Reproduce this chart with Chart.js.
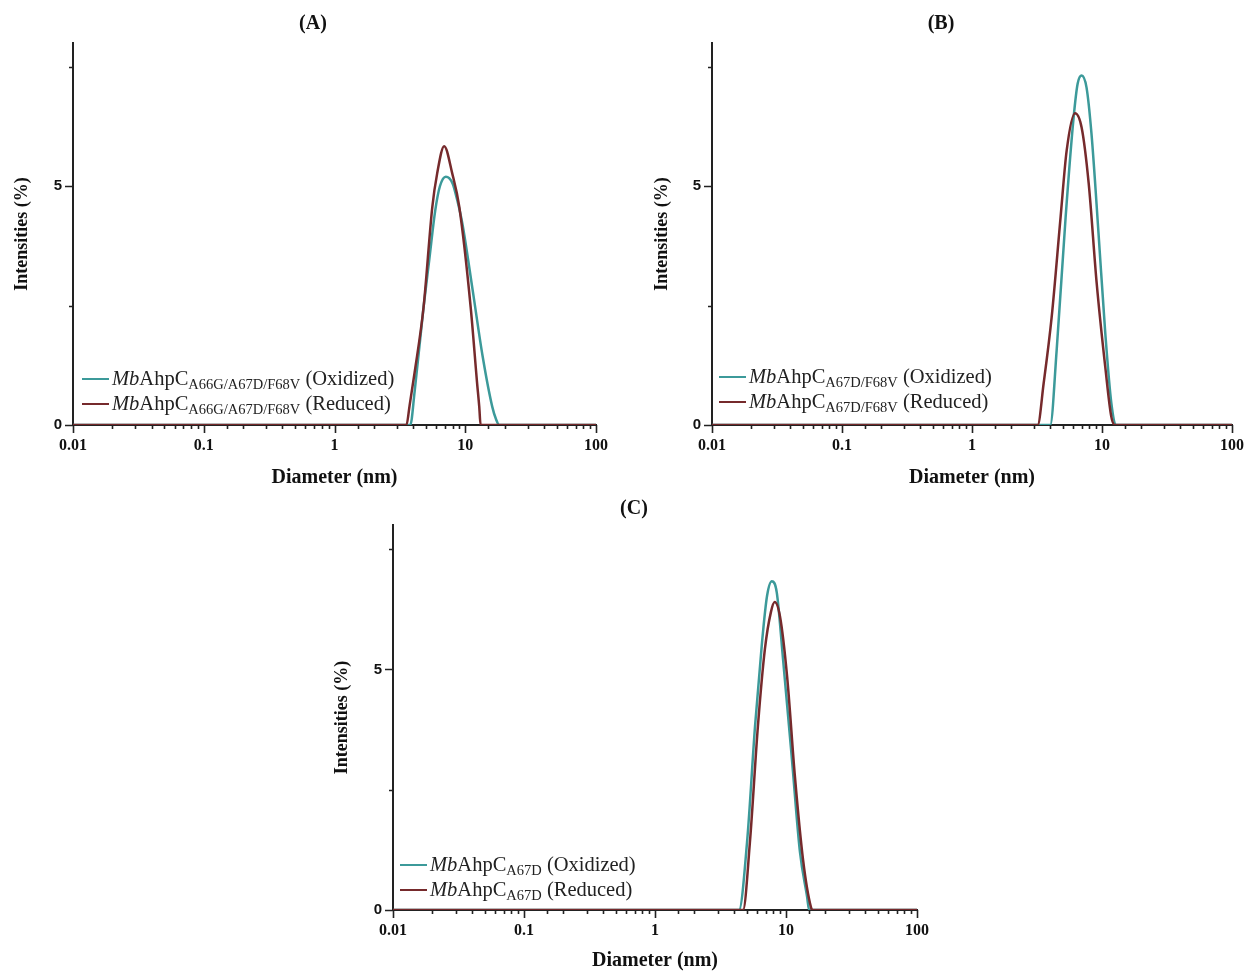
<!DOCTYPE html>
<html>
<head>
<meta charset="utf-8">
<script src="https://cdn.jsdelivr.net/npm/chart.js@4.4.1/dist/chart.umd.min.js"></script>
<style>
  body { margin: 0; background: #fff; }
  #page { position: relative; width: 1255px; height: 973px; overflow: hidden; }
  canvas { position: absolute; }
  .ptitle { position: absolute; font: bold 20px "Liberation Serif", serif; line-height: 24px; transform: translateX(-50%); color: #111; }
  .legend { position: absolute; font: 20.5px "Liberation Serif", serif; color: #222; }
  .legend .row { position: relative; height: 25px; white-space: nowrap; }
  .legend .sw { position: absolute; left: 0; top: 12px; width: 27px; height: 2px; }
  .legend .txt { position: absolute; left: 30px; top: 0; line-height: 25px; }
  .legend sub { font-size: 14.5px; vertical-align: -4px; line-height: 0; }
</style>
</head>
<body>
<div id="page">
  <canvas id="chartA" width="620" height="490" style="left:0px;top:0px"></canvas>
  <canvas id="chartB" width="615" height="490" style="left:640px;top:0px"></canvas>
  <canvas id="chartC" width="620" height="473" style="left:320px;top:500px"></canvas>
  <div class="ptitle" style="left:313px;top:10px">(A)</div>
  <div class="ptitle" style="left:941px;top:10px">(B)</div>
  <div class="ptitle" style="left:634px;top:495px">(C)</div>
  <div class="legend" id="legA" style="left:82px;top:366px"></div>
  <div class="legend" id="legB" style="left:719px;top:364px"></div>
  <div class="legend" id="legC" style="left:400px;top:852px"></div>
</div>
<script>
// diameters (nm) and intensities (%)
const diamA_ox  = [0.01, 3.8, 4.1, 4.8, 5.3, 5.9, 6.4, 7.1, 8.0, 8.7, 9.5, 11.4, 13.6, 16.1, 17.2, 18.2, 100];
const intA_ox   = [0, 0, 0.7, 2.47, 3.45, 4.5, 5.0, 5.2, 5.06, 4.7, 4.22, 2.82, 1.43, 0.38, 0.12, 0, 0];
const diamA_red = [0.01, 3.55, 3.75, 4.1, 4.8, 5.6, 6.1, 6.9, 7.95, 9.0, 11.0, 12.3, 12.8, 13.1, 100];
const intA_red  = [0, 0, 0.4, 1.1, 2.47, 4.57, 5.27, 5.84, 5.27, 4.57, 2.47, 0.9, 0.38, 0, 0];

const diamB_ox  = [0.01, 4.0, 4.48, 5.25, 6.05, 6.5, 6.97, 7.6, 8.3, 9.4, 10.6, 11.8, 12.9, 100];
const intB_ox   = [0, 0, 1.57, 4.35, 6.44, 7.15, 7.32, 7.07, 6.1, 4.02, 1.92, 0.46, 0, 0];
const diamB_red = [0.01, 3.2, 3.56, 4.1, 4.8, 5.35, 6.2, 6.97, 7.9, 9.1, 10.6, 11.8, 12.6, 100];
const intB_red  = [0, 0, 0.88, 2.26, 4.35, 5.75, 6.53, 6.23, 5.06, 2.97, 1.21, 0.17, 0, 0];

const diamC_ox  = [0.01, 4.38, 5.04, 5.8, 6.56, 7.16, 7.8, 8.5, 9.5, 11.1, 12.8, 14.5, 15, 100];
const intC_ox   = [0, 0, 1.4, 3.81, 5.56, 6.52, 6.83, 6.6, 5.2, 3.13, 1.19, 0.27, 0, 0];
const diamC_red = [0.01, 4.7, 5.3, 6.1, 6.9, 7.67, 8.2, 9.0, 10.2, 11.7, 13.5, 15.5, 16, 100];
const intC_red  = [0, 0, 1.4, 3.81, 5.42, 6.19, 6.4, 6.1, 4.85, 2.77, 1.04, 0.06, 0, 0];

const xTickLabels = ['0.01', '0.1', '1', '10', '100'];
const yTicks = [0, 2.5, 5, 7.5];
const yTickLabels = ['0', '', '5', ''];

const protName = 'AhpC';
const mutants = ['A66G/A67D/F68V', 'A67D/F68V', 'A67D'];
const states = ['(Oxidized)', '(Reduced)'];

const colOx = '#3c9a9a';
const colRed = '#762a2c';
const axisCol = '#222';

const serif = '"Liberation Serif", "Times New Roman", serif';

const pts = (xs, ys) => xs.map((x, i) => ({x: x, y: ys[i]}));

const isDecade = (v) => Math.abs(Math.log10(v) - Math.round(Math.log10(v))) < 1e-6;

// tick marks: longer on labelled ticks
const tickMarks = {
    id: 'tickMarks',
    afterDraw(chart) {
        const ctx = chart.ctx;
        const xs = chart.scales.x;
        const ys = chart.scales.y;
        ctx.save();
        ctx.strokeStyle = axisCol;
        ctx.lineWidth = 1.6;
        ctx.beginPath();
        xs.ticks.forEach(t => {
            const px = Math.round(xs.getPixelForValue(t.value)) + 0.5;
            const len = isDecade(t.value) ? 8 : 4;
            ctx.moveTo(px, xs.top);
            ctx.lineTo(px, xs.top + len);
        });
        ys.ticks.forEach(t => {
            const py = Math.round(ys.getPixelForValue(t.value)) + 0.5;
            const len = (t.value % 5 === 0) ? 8 : 4;
            ctx.moveTo(ys.right - len, py);
            ctx.lineTo(ys.right, py);
        });
        ctx.stroke();
        ctx.restore();
    }
};

const makeChart = (id, ox, red, yW, xH, padTop, padRight) => {
    return new Chart(document.getElementById(id), {
        type: 'line',
        data: {
            datasets: [
                { label: states[0], data: ox, order: 1, borderColor: colOx, borderWidth: 2.5, pointRadius: 0, cubicInterpolationMode: 'monotone', fill: false },
                { label: states[1], data: red, order: 0, borderColor: colRed, borderWidth: 2.5, pointRadius: 0, cubicInterpolationMode: 'monotone', fill: false }
            ]
        },
        options: {
            responsive: false,
            animation: false,
            layout: { padding: { top: padTop, right: padRight, left: 0, bottom: 0 } },
            plugins: { legend: { display: false }, tooltip: { enabled: false } },
            scales: {
                x: {
                    type: 'logarithmic',
                    min: 0.01,
                    max: 100,
                    afterFit: (s) => { s.height = xH; },
                    grid: { drawOnChartArea: false, drawTicks: false },
                    border: { display: true, color: axisCol, width: 2 },
                    ticks: {
                        autoSkip: false,
                        maxRotation: 0,
                        padding: 11,
                        color: '#111',
                        font: { family: serif, size: 16, weight: 'bold' },
                        callback: (v) => {
                            if (!isDecade(v)) return '';
                            const i = Math.round(Math.log10(v)) + 2;
                            return xTickLabels[i];
                        }
                    },
                    title: {
                        display: true,
                        text: 'Diameter (nm)',
                        color: '#111',
                        padding: { top: 0, bottom: 0 },
                        font: { family: serif, size: 20, weight: 'bold' }
                    }
                },
                y: {
                    min: 0,
                    max: 8,
                    afterFit: (s) => { s.width = yW; },
                    afterBuildTicks: (s) => { s.ticks = yTicks.map(v => ({ value: v })); },
                    grid: { drawOnChartArea: false, drawTicks: false },
                    border: { display: true, color: axisCol, width: 2 },
                    ticks: {
                        padding: 11,
                        color: '#111',
                        font: { family: '"Liberation Sans", Arial, sans-serif', size: 15, weight: 'bold' },
                        callback: (v) => yTickLabels[yTicks.indexOf(v)]
                    },
                    title: {
                        display: true,
                        text: 'Intensities (%)',
                        color: '#111',
                        padding: { top: 12, bottom: 0 },
                        font: { family: serif, size: 18, weight: 'bold' }
                    }
                }
            }
        },
        plugins: [tickMarks]
    });
};

makeChart('chartA', pts(diamA_ox, intA_ox), pts(diamA_red, intA_red), 73, 65, 43, 24);
makeChart('chartB', pts(diamB_ox, intB_ox), pts(diamB_red, intB_red), 72, 65, 43, 21);
makeChart('chartC', pts(diamC_ox, intC_ox), pts(diamC_red, intC_red), 73, 63, 25, 23);

// legends with italic Mb and subscript mutation
const fillLegend = (id, mut) => {
    const el = document.getElementById(id);
    [colOx, colRed].forEach((c, i) => {
        const row = document.createElement('div');
        row.className = 'row';
        row.innerHTML = `<span class="sw" style="background:${c}"></span>` +
            `<span class="txt"><i>Mb</i>${protName}<sub>${mut}</sub> ${states[i]}</span>`;
        el.append(row);
    });
};
fillLegend('legA', mutants[0]);
fillLegend('legB', mutants[1]);
fillLegend('legC', mutants[2]);
</script>
</body>
</html>
